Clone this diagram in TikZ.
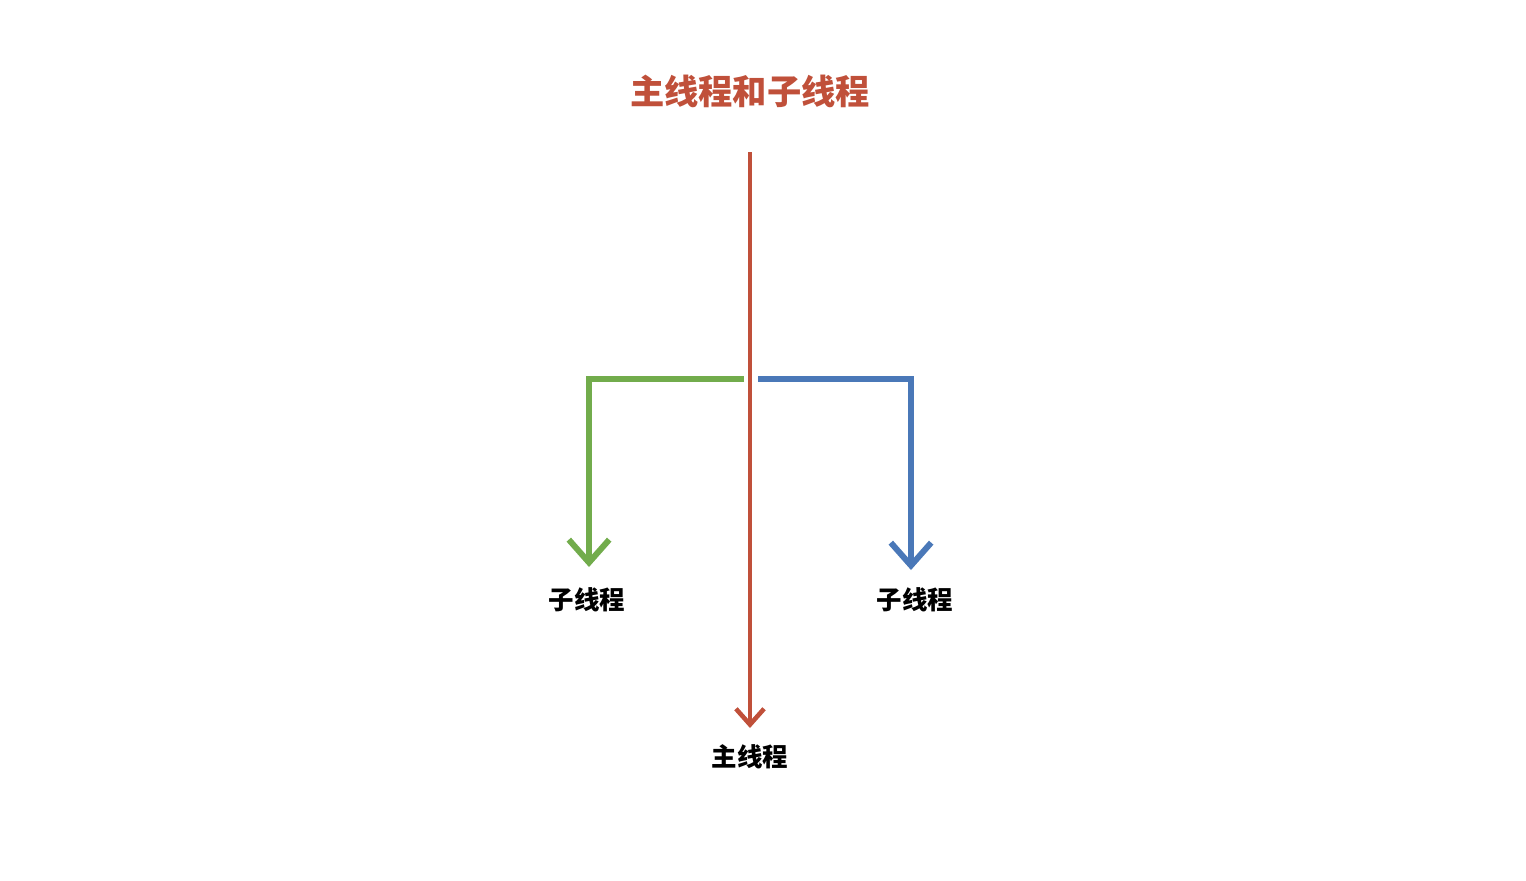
\documentclass[tikz,border=0pt]{standalone}
\usepackage{fontspec}
\setmainfont{Noto Sans CJK SC}
\usetikzlibrary{arrows.meta}
\definecolor{mainred}{HTML}{C0503A}
\definecolor{subgreen}{HTML}{72AC4C}
\definecolor{subblue}{HTML}{4A78B8}
\begin{document}
\begin{tikzpicture}[x=0.02cm,y=-0.02cm,
    label/.style={font=\bfseries\fontsize{14.5}{16}\selectfont, inner sep=2pt},
    mainline/.style={mainred, line width=2.6pt, -{Straight Barb[length=9pt,width=16pt,line width=2.6pt]}},
    subline/.style={line width=3.4pt, line join=miter, -{Straight Barb[length=13pt,width=23pt,line width=3.4pt]}}]
        \useasboundingbox (0,0) rectangle (1526,880);

        % Title
        \node[mainred, font=\bfseries\fontsize{19.5}{22}\selectfont] (title) at (750,91) {主线程和子线程};

        % Main thread
        \coordinate (top) at (750,152);
        \coordinate (mainend) at (750,728);
        \node[label] (main) at (750,757) {主线程};
        \draw[mainline] (top) -- (mainend);

        % Sub threads
        \coordinate (lstart) at (744,379);
        \coordinate (rstart) at (758,379);
        \coordinate (lend) at (589,567);
        \coordinate (rend) at (911,570);
        \node[label] (left) at (587,600) {子线程};
        \node[label] (right) at (915,600) {子线程};
        \draw[subline, subgreen] (lstart) -| (lend);
        \draw[subline, subblue] (rstart) -| (rend);
    \end{tikzpicture}
\end{document}
